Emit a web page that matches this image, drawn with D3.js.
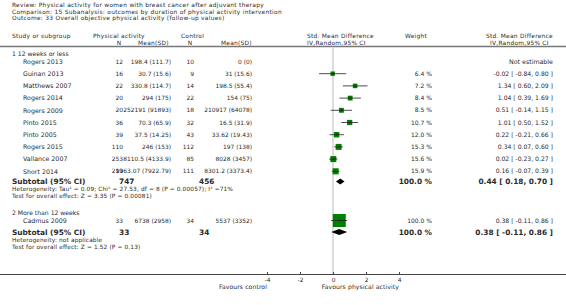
<!DOCTYPE html>
<html><head><meta charset="utf-8">
<script src="https://cdn.jsdelivr.net/npm/d3@7"></script>
<style>
html,body{margin:0;padding:0;background:#fff;}
svg text{font-family:"DejaVu Sans",sans-serif;fill:#2a2a2a;}
</style></head>
<body><svg id="c" width="566" height="305"></svg>
<script>
// ---- data ----
const headerLines = [
  "Review:  Physical activity for women with breast cancer after adjuvant therapy",
  "Comparison:  15 Subanalysis: outcomes by duration of physical activity intervention",
  "Outcome:  33 Overall objective physical activity (follow-up values)"
];
const group1Label = "1 12 weeks or less";
const studies1 = ["Rogers 2013","Guinan 2013","Matthews 2007","Rogers 2014","Rogers 2009","Pinto 2015","Pinto 2005","Rogers 2015","Vallance 2007","Short 2014"];
const paN1 = [12,16,22,20,20,36,39,110,253,219];
const paMean1 = [198.4,30.7,330.8,294,252191,70.3,37.5,246,8110.5,9363.07];
const paSD1 = [111.7,15.6,114.7,175,91893,65.9,14.25,153,4133.9,7922.79];
const ctN1 = [10,9,14,22,18,32,43,112,85,111];
const ctMean1 = [0,31,198.5,154,210917,16.5,33.62,197,8028,8301.2];
const ctSD1 = [0,15.6,55.4,75,64078,31.9,19.43,138,3457,3373.4];
const smd1 = [null,-0.02,1.34,1.04,0.51,1.01,0.22,0.34,0.02,0.16];
const lo1 = [null,-0.84,0.60,0.39,-0.14,0.50,-0.21,0.07,-0.23,-0.07];
const hi1 = [null,0.80,2.09,1.69,1.15,1.52,0.66,0.60,0.27,0.39];
const wt1 = [null,6.4,7.2,8.4,8.5,10.7,12.0,15.3,15.6,15.9];
const sub1 = {paN:747, ctN:456, est:0.44, lo:0.18, hi:0.70, wt:100.0};
const het1 = "Heterogeneity: Tau\u00b2 = 0.09; Chi\u00b2 = 27.53, df = 8 (P = 0.00057); I\u00b2 =71%";
const test1 = "Test for overall effect: Z = 3.35 (P = 0.00081)";

const group2Label = "2 More than 12 weeks";
const studies2 = ["Cadmus 2009"];
const paN2 = [33]; const paMean2 = [6738]; const paSD2 = [2958];
const ctN2 = [34]; const ctMean2 = [5537]; const ctSD2 = [3352];
const smd2 = [0.38]; const lo2 = [-0.11]; const hi2 = [0.86]; const wt2 = [100.0];
const sub2 = {paN:33, ctN:34, est:0.38, lo:-0.11, hi:0.86, wt:100.0};
const het2 = "Heterogeneity: not applicable";
const test2 = "Test for overall effect: Z = 1.52 (P = 0.13)";

const axisTicks = [-4,-2,0,2,4];
const favoursLeft = "Favours control";
const favoursRight = "Favours physical activity";

// ---- layout ----
const svg = d3.select("#c");
const FS = 6.3, FN = 5.9, FB = 7.4, FH = 5.8, FT = 5.9;
const x = d3.scaleLinear().domain([-4,4]).range([267,399]);
const sq = d3.scaleSqrt().domain([0,100]).range([0,11.5]);
const col = {name:23, grp:12, paN:123, paM:171, ctN:194, ctM:252, wt:432, ci:553};

function txt(t, xx, yy, anchor, opts={}) {
  const el = svg.append("text").attr("x",xx).attr("y",yy).attr("dy","0.35em")
    .attr("text-anchor",anchor||"start")
    .style("font-size",(opts.size||FS)+"px")
    .style("font-weight",opts.bold?"bold":"normal")
    .text(t);
  if (opts.ls) el.style("letter-spacing", opts.ls+"px");
  return el;
}
const fmtCI = (e,l,h) => e.toFixed(2)+" [ "+l.toFixed(2)+", "+h.toFixed(2)+" ]";

headerLines.forEach((t,i)=>txt(t,12,4.8+i*6.8,"start",{size:FT, ls:0.28}));
const hy1 = 35.8, hy2 = 42.7;
txt("Study or subgroup",12,hy1,"start",{size:FT, ls:0.25});
txt("Physical activity",93,hy1,"start",{size:FT, ls:0.25});
txt("N",119,hy2,"middle",{size:FT});
txt("Mean(SD)",138,hy2,"start",{size:FT, ls:0.25});
txt("Control",181,hy1,"start",{size:FT, ls:0.25});
txt("N",190,hy2,"middle",{size:FT});
txt("Mean(SD)",221,hy2,"start",{size:FT, ls:0.25});
txt("Std. Mean Difference",307,hy1,"start",{size:FT, ls:0.25});
txt("IV,Random,95% CI",307,hy2,"start",{size:FT, ls:0.25});
txt("Weight",405,hy1,"start",{size:FT, ls:0.25});
txt("Std. Mean Difference",486,hy1,"start",{size:FT, ls:0.25});
txt("IV,Random,95% CI",490,hy2,"start",{size:FT, ls:0.25});

svg.append("line").attr("x1",0).attr("x2",566).attr("y1",46.5).attr("y2",46.5)
  .attr("stroke","#777").attr("stroke-width",1.3);

// zero line
svg.append("line").attr("x1",x(0)).attr("x2",x(0)).attr("y1",48).attr("y2",275)
  .attr("stroke","#bbb").attr("stroke-width",1);

function drawGroup(label, ly, studies, paN, paM, paS, ctN, ctM, ctS, smd, lo, hi, wt, y0, step) {
  txt(label, col.grp, ly, "start", {size:6.1});
  studies.forEach((s,i)=>{
    const y = y0 + i*step;
    txt(s, col.name, y, "start");
    txt(String(paN[i]), col.paN, y, "end", {size:FN});
    txt(paM[i]+" ("+paS[i]+")", col.paM, y, "end", {size:FN});
    txt(String(ctN[i]), col.ctN, y, "end", {size:FN});
    txt(ctM[i]+" ("+ctS[i]+")", col.ctM, y, "end", {size:FN});
    if (smd[i]===null) {
      txt("Not estimable", col.ci, y, "end");
    } else {
      txt(wt[i].toFixed(1)+" %", col.wt, y, "end", {size:6});
      txt(fmtCI(smd[i],lo[i],hi[i]), col.ci, y, "end", {size:6.1});
      const s2 = 1.5 + sq(wt[i]);
      svg.append("rect").attr("x",x(smd[i])-s2/2).attr("y",y-s2/2)
        .attr("width",s2).attr("height",s2).attr("fill","#008000");
      svg.append("line").attr("x1",x(lo[i])).attr("x2",x(hi[i])).attr("y1",y).attr("y2",y)
        .attr("stroke","#222").attr("stroke-width",0.8);
      svg.append("line").attr("x1",x(smd[i])).attr("x2",x(smd[i])).attr("y1",y-1.2).attr("y2",y+1.2)
        .attr("stroke","#222").attr("stroke-width",0.6);
    }
  });
}
function drawSub(sub, y, het, test) {
  txt("Subtotal (95% CI)", 12, y, "start", {bold:true, size:FB});
  txt(String(sub.paN), 119, y, "start", {bold:true, size:FB});
  txt(String(sub.ctN), 199, y, "start", {bold:true, size:FB});
  txt(sub.wt.toFixed(1)+" %", col.wt, y, "end", {bold:true, size:FB});
  txt(fmtCI(sub.est,sub.lo,sub.hi), col.ci, y, "end", {bold:true, size:FB});
  const h = 3;
  svg.append("path").attr("d",
    `M${x(sub.lo)},${y} L${x(sub.est)},${y-h} L${x(sub.hi)},${y} L${x(sub.est)},${y+h} Z`)
    .attr("fill","#000");
  txt(het, 12, y+7.8, "start", {size:FH, ls:0.15});
  txt(test, 12, y+14.6, "start", {size:FH, ls:0.15});
}

drawGroup(group1Label, 53.5, studies1, paN1, paMean1, paSD1, ctN1, ctMean1, ctSD1, smd1, lo1, hi1, wt1, 61.5, 12.2);
drawSub(sub1, 181.5, het1, test1);
drawGroup(group2Label, 213, studies2, paN2, paMean2, paSD2, ctN2, ctMean2, ctSD2, smd2, lo2, hi2, wt2, 220.5, 12.2);
drawSub(sub2, 232, het2, test2);

// axis
const axY = 274.5;
svg.append("line").attr("x1",0).attr("x2",566).attr("y1",axY).attr("y2",axY)
  .attr("stroke","#444").attr("stroke-width",1);
const ax = d3.axisBottom(x).tickValues(axisTicks).tickSize(0).tickPadding(0).tickFormat(d3.format("d"));
const g = svg.append("g").attr("transform",`translate(0,${axY})`).call(ax);
g.select(".domain").remove();
g.selectAll(".tick text").attr("y",3).attr("dy","0.7em").style("font-size","5.9px")
  .style("font-family","DejaVu Sans").attr("fill","#2a2a2a")
  .text(d => d < 0 ? "-" + Math.abs(d) : String(d));
g.selectAll(".tick").append("line").attr("y1",0).attr("y2",-2.5).attr("stroke","#444");
txt(favoursLeft, x(-4), 287, "end", {size:6.1, ls:0.1});
txt(favoursRight, x(4), 287, "end", {size:6.1, ls:0.1});
</script></body></html>
